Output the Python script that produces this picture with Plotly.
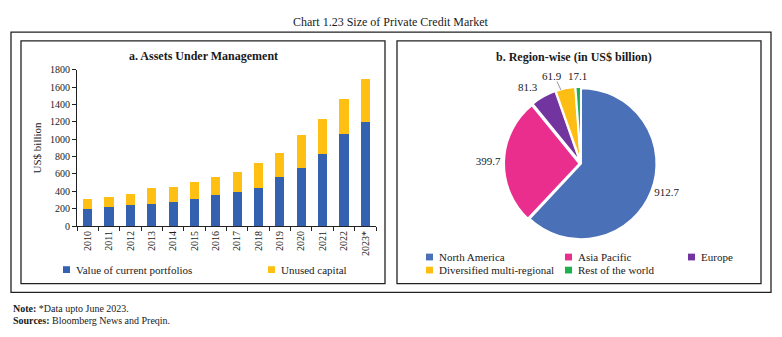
import plotly.graph_objects as go

# ---------------- data ----------------
years = ["2010", "2011", "2012", "2013", "2014", "2015", "2016",
         "2017", "2018", "2019", "2020", "2021", "2022", "2023*"]
current_portfolios = [200, 220, 245, 253, 278, 312, 360, 390, 443, 567, 672, 828, 1063, 1195]
unused_capital = [107, 120, 125, 185, 167, 197, 200, 238, 287, 270, 375, 400, 405, 495]
bar_series = ["Value of current portfolios", "Unused capital"]
bar_colors = ["#3562B0", "#FFC013"]

regions = ["North America", "Asia Pacific", "Europe", "Diversified multi-regional", "Rest of the world"]
region_values = [912.7, 399.7, 81.3, 61.9, 17.1]
region_colors = ["#4A70B8", "#E92E8E", "#7235A0", "#FDBD13", "#1EB04C"]

y_ticks = [0, 200, 400, 600, 800, 1000, 1200, 1400, 1600, 1800]

W, H = 782, 337
FONT = "Liberation Serif"
TXT = "#1a1a1a"


def px(x):
    return x / W


def py(y):
    return 1 - y / H


fig = go.Figure()

fig.add_trace(go.Bar(x=years, y=current_portfolios, name=bar_series[0],
                     marker=dict(color=bar_colors[0], line=dict(width=0)),
                     showlegend=False, xaxis="x", yaxis="y"))
fig.add_trace(go.Bar(x=years, y=unused_capital, name=bar_series[1],
                     marker=dict(color=bar_colors[1], line=dict(width=0)),
                     showlegend=False, xaxis="x", yaxis="y"))

pie_r = 78
pull = 0.02
dom_h = 2 * pie_r * (1 + pull)
cx, cy = 581, 163
# small slices get their value labels placed by hand (as in the reference) to avoid overlaps
fig.add_trace(go.Pie(
    labels=regions, values=region_values, sort=False, direction="clockwise",
    rotation=0, hole=0,
    marker=dict(colors=region_colors, line=dict(color="white", width=2)),
    pull=[0, pull, pull, pull, pull],
    textinfo="value", texttemplate="%{value:.1f}",
    textposition=["outside", "outside", "none", "none", "none"],
    outsidetextfont=dict(family=FONT, size=11, color=TXT),
    showlegend=False, hoverinfo="label+value",
    domain=dict(x=[px(cx - dom_h / 2), px(cx + dom_h / 2)],
                y=[py(cy + dom_h / 2), py(cy - dom_h / 2)]),
))

shapes = []
# outer frame and panel frames
shapes.append(dict(type="rect", xref="paper", yref="paper",
                   x0=px(11), x1=px(771), y0=py(296), y1=py(27),
                   line=dict(color="#222", width=1.3)))
for x0, x1 in [(21, 385), (397, 761)]:
    shapes.append(dict(type="rect", xref="paper", yref="paper",
                       x0=px(x0), x1=px(x1), y0=py(287), y1=py(36),
                       line=dict(color="#222", width=1.3)))

annotations = []


def legend_item(x_key, y_c, color, text):
    shapes.append(dict(type="rect", xref="paper", yref="paper",
                       x0=px(x_key), x1=px(x_key + 7),
                       y0=py(y_c + 3.5), y1=py(y_c - 3.5),
                       fillcolor=color, line=dict(width=0)))
    annotations.append(dict(text=text, xref="paper", yref="paper",
                            x=px(x_key + 11), y=py(y_c), xanchor="left", yanchor="middle",
                            showarrow=False, font=dict(family=FONT, size=11, color=TXT)))


# bar legend
legend_item(63, 272.5, bar_colors[0], bar_series[0])
legend_item(268, 272.5, bar_colors[1], bar_series[1])
# pie legend
pie_leg_pos = [(426, 259.5), (565, 259.5), (688, 259.5), (426, 273), (565, 273)]
for (lx, ly), c, t in zip(pie_leg_pos, region_colors, regions):
    legend_item(lx, ly, c, t)

# value labels of the small pie slices
small_label_pos = {2: (528, 84), 3: (552, 72), 4: (577, 72)}
for i, (lx, ly) in small_label_pos.items():
    annotations.append(dict(text=f"{region_values[i]:.1f}", xref="paper", yref="paper",
                            x=px(lx), y=py(ly), xanchor="center", yanchor="middle",
                            showarrow=False, font=dict(family=FONT, size=11, color=TXT)))
# leader line for the 61.9 label
shapes.append(dict(type="line", xref="paper", yref="paper",
                   x0=px(557), y0=py(78), x1=px(561), y1=py(87),
                   line=dict(color="#999", width=1)))

# titles
annotations.append(dict(text="Chart 1.23 Size of Private Credit Market", xref="paper", yref="paper",
                        x=0.5, y=py(17), xanchor="center", yanchor="middle", showarrow=False,
                        font=dict(family=FONT, size=12, color=TXT)))
annotations.append(dict(text="<b>a. Assets Under Management</b>", xref="paper", yref="paper",
                        x=px(203), y=py(51.5), xanchor="center", yanchor="middle", showarrow=False,
                        font=dict(family=FONT, size=12, color=TXT)))
annotations.append(dict(text="<b>b. Region-wise (in US$ billion)</b>", xref="paper", yref="paper",
                        x=px(574), y=py(52.5), xanchor="center", yanchor="middle", showarrow=False,
                        font=dict(family=FONT, size=12, color=TXT)))
annotations.append(dict(text="<b>Note:</b> *Data upto June 2023.", xref="paper", yref="paper",
                        x=px(11), y=py(312.5), xanchor="left", yanchor="middle", showarrow=False,
                        font=dict(family=FONT, size=10, color=TXT)))
annotations.append(dict(text="<b>Sources:</b> Bloomberg News and Preqin.", xref="paper", yref="paper",
                        x=px(11), y=py(325), xanchor="left", yanchor="middle", showarrow=False,
                        font=dict(family=FONT, size=10, color=TXT)))

fig.update_layout(
    width=W, height=H,
    margin=dict(l=0, r=0, t=0, b=0, pad=0),
    paper_bgcolor="white", plot_bgcolor="white",
    barmode="stack", bargap=0.57,
    font=dict(family=FONT, size=10, color=TXT),
    xaxis=dict(domain=[px(77), px(376)], type="category",
               showline=True, linecolor="#222", linewidth=1,
               ticks="outside", tickson="boundaries", ticklen=4, tickcolor="#222",
               tickangle=-90, tickfont=dict(family=FONT, size=10, color=TXT),
               showgrid=False, zeroline=False, anchor="y"),
    yaxis=dict(domain=[py(227.5), py(66)], range=[0, 1800],
               tickvals=y_ticks, showline=True, linecolor="#222", linewidth=1,
               ticks="outside", ticklen=4, tickcolor="#222",
               tickfont=dict(family=FONT, size=10, color=TXT),
               showgrid=False, zeroline=False, anchor="x",
               title=dict(text="US$ billion", font=dict(family=FONT, size=11, color=TXT), standoff=6)),
    shapes=shapes,
    annotations=annotations,
)

fig.write_html("out.html")
